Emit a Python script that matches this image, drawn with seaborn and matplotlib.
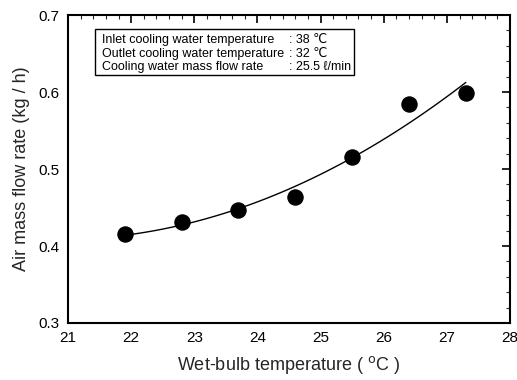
import numpy as np
import pandas as pd
import matplotlib
matplotlib.use("Agg")
import matplotlib.pyplot as plt
import seaborn as sns
from matplotlib.ticker import MultipleLocator, FormatStrFormatter

# Data
wet_bulb = [21.9, 22.8, 23.7, 24.6, 25.5, 26.4, 27.3]
air_flow = [0.415, 0.431, 0.447, 0.463, 0.515, 0.584, 0.599]

info_labels = ["Inlet cooling water temperature",
               "Outlet cooling water temperature",
               "Cooling water mass flow rate"]
info_values = [": 38 \u2103", ": 32 \u2103", ": 25.5 \u2113/min"]

sns.set_theme(style="white")
plt.rcParams['font.family'] = ['Liberation Sans', 'DejaVu Sans']

df = pd.DataFrame({"x": wet_bulb, "y": air_flow})
coef = np.polyfit(df["x"], df["y"], 2)
xf = np.linspace(min(wet_bulb), max(wet_bulb), 100)
fit = pd.DataFrame({"x": xf, "y": np.polyval(coef, xf)})

fig = plt.figure(figsize=(5.17, 3.80), dpi=100)
ax = fig.add_axes([0.1315, 0.150, 0.855, 0.8105])

sns.lineplot(data=fit, x="x", y="y", ax=ax, color="black", linewidth=1.0)
sns.scatterplot(data=df, x="x", y="y", ax=ax, color="black", s=120,
                edgecolor="black", zorder=3)

ax.set_xlim(21, 28)
ax.set_ylim(0.3, 0.7)
ax.xaxis.set_major_locator(MultipleLocator(1))
ax.xaxis.set_minor_locator(MultipleLocator(0.2))
ax.yaxis.set_major_locator(MultipleLocator(0.1))
ax.yaxis.set_minor_locator(MultipleLocator(0.02))
ax.yaxis.set_major_formatter(FormatStrFormatter('%.1f'))
ax.xaxis.set_major_formatter(FormatStrFormatter('%d'))
ax.tick_params(which='major', direction='in', length=6, width=1.2,
               top=True, right=True, labelsize=11, colors='black', pad=6)
ax.tick_params(which='minor', direction='in', length=3, width=0.8,
               top=True, right=True)
for s in ax.spines.values():
    s.set_color('black')
    s.set_linewidth(1.5)

ax.set_xlabel("Wet-bulb temperature ( $^{\\rm o}$C )", fontsize=13, labelpad=6)
ax.set_ylabel("Air mass flow rate (kg / h)", fontsize=13, labelpad=6)

# Info box
bx0, by0, bx1, by1 = 0.062, 0.805, 0.648, 0.955
box = plt.Rectangle((bx0, by0), bx1 - bx0, by1 - by0, transform=ax.transAxes,
                    fill=False, edgecolor='black', linewidth=1.0, zorder=4)
ax.add_patch(box)
for i, (lab, val) in enumerate(zip(info_labels, info_values)):
    yy = 0.918 - i * 0.044
    ax.text(0.076, yy, lab, transform=ax.transAxes, fontsize=9,
            va='center', ha='left', color='black')
    ax.text(0.499, yy, val, transform=ax.transAxes, fontsize=9,
            va='center', ha='left', color='black')

fig.savefig("out.png", dpi=100)
